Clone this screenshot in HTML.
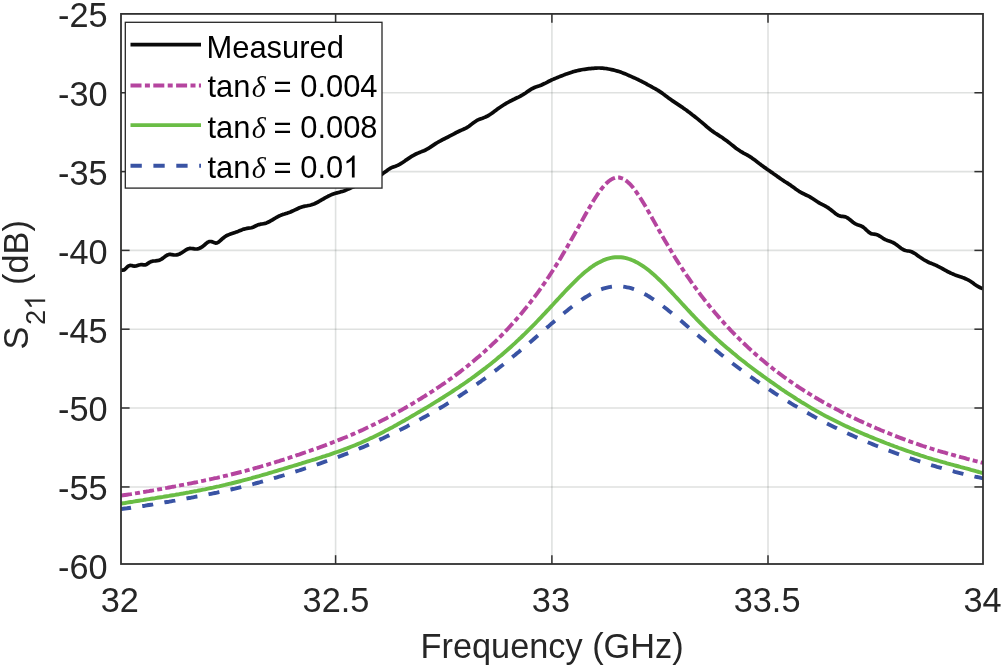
<!DOCTYPE html>
<html><head><meta charset="utf-8"><title>S21</title><style>html,body{margin:0;padding:0;background:#fff}</style></head><body>
<svg width="1004" height="667" viewBox="0 0 1004 667" style="display:block;will-change:transform;font-family:'Liberation Sans',sans-serif">
<rect width="1004" height="667" fill="#fff"/>
<defs><clipPath id="c"><rect x="121.0" y="13.9" width="862.0" height="550.1"/></clipPath></defs>
<g stroke="#1e2a26" stroke-opacity="0.14" stroke-width="1.6">
<line x1="335.6" y1="13.9" x2="335.6" y2="564.0"/>
<line x1="551.9" y1="13.9" x2="551.9" y2="564.0"/>
<line x1="768.0" y1="13.9" x2="768.0" y2="564.0"/>
<line x1="121.0" y1="92.75" x2="983.0" y2="92.75"/>
<line x1="121.0" y1="171.6" x2="983.0" y2="171.6"/>
<line x1="121.0" y1="250.4" x2="983.0" y2="250.4"/>
<line x1="121.0" y1="329.2" x2="983.0" y2="329.2"/>
<line x1="121.0" y1="408.0" x2="983.0" y2="408.0"/>
<line x1="121.0" y1="486.95" x2="983.0" y2="486.95"/>
</g>
<g fill="none" stroke-linejoin="round" clip-path="url(#c)">
<path d="M121.0,270.2 L122.5,270.2 L124.0,269.9 L125.5,268.8 L127.0,267.2 L128.5,265.9 L130.0,265.4 L131.5,265.5 L133.0,265.9 L134.5,266.2 L136.0,266.0 L137.5,265.5 L139.0,265.0 L140.5,264.7 L142.0,264.7 L143.5,264.9 L145.0,264.9 L146.5,264.4 L148.0,263.4 L149.5,262.4 L151.0,261.6 L152.5,261.2 L154.0,261.0 L155.5,260.9 L157.0,260.7 L158.5,260.4 L160.0,259.9 L161.5,259.1 L163.0,258.1 L164.5,256.9 L166.0,255.8 L167.5,254.9 L169.0,254.4 L170.5,254.4 L172.0,254.7 L173.5,254.9 L175.0,255.0 L176.5,254.9 L178.0,254.6 L179.5,254.0 L181.0,253.2 L182.5,252.2 L184.0,251.2 L185.5,250.2 L187.0,249.3 L188.5,248.7 L190.0,248.4 L191.5,248.5 L193.0,248.7 L194.5,248.9 L196.0,249.0 L197.5,248.9 L199.0,248.5 L200.5,247.8 L202.0,246.9 L203.5,245.8 L205.0,244.5 L206.5,243.2 L208.0,242.1 L209.5,241.5 L211.0,241.5 L212.5,241.9 L214.0,242.6 L215.5,243.1 L217.0,242.9 L218.5,242.1 L220.0,240.8 L221.5,239.5 L223.0,238.2 L224.5,237.0 L226.0,236.0 L227.5,235.2 L229.0,234.6 L230.5,234.0 L232.0,233.5 L233.5,233.0 L235.0,232.5 L236.5,231.9 L238.0,231.4 L239.5,230.8 L241.0,230.2 L242.5,229.6 L244.0,229.1 L245.5,228.7 L247.0,228.4 L248.5,228.2 L250.0,228.0 L251.5,227.7 L253.0,227.2 L254.5,226.5 L256.0,225.8 L257.5,225.1 L259.0,224.6 L260.5,224.2 L262.0,224.0 L263.5,223.7 L265.0,223.4 L266.5,222.9 L268.0,222.2 L269.5,221.5 L271.0,220.7 L272.5,219.8 L274.0,218.9 L275.5,218.0 L277.0,217.1 L278.5,216.3 L280.0,215.6 L281.5,215.0 L283.0,214.4 L284.5,214.0 L286.0,213.5 L287.5,213.1 L289.0,212.6 L290.5,212.0 L292.0,211.3 L293.5,210.6 L295.0,209.9 L296.5,209.2 L298.0,208.5 L299.5,207.8 L301.0,207.3 L302.5,206.8 L304.0,206.4 L305.5,206.0 L307.0,205.8 L308.5,205.5 L310.0,205.2 L311.5,204.8 L313.0,204.3 L314.5,203.7 L316.0,203.0 L317.5,202.3 L319.0,201.4 L320.5,200.5 L322.0,199.7 L323.5,198.8 L325.0,197.9 L326.5,197.1 L328.0,196.3 L329.5,195.6 L331.0,194.9 L332.5,194.3 L334.0,193.8 L335.5,193.3 L337.0,192.9 L338.5,192.5 L340.0,192.1 L341.5,191.6 L343.0,191.2 L344.5,190.7 L346.0,190.1 L347.5,189.4 L349.0,188.7 L350.5,188.0 L352.0,187.3 L353.5,186.7 L355.0,186.0 L356.5,185.5 L358.0,184.9 L359.5,184.4 L361.0,183.8 L362.5,183.3 L364.0,182.8 L365.5,182.3 L367.0,181.7 L368.5,181.1 L370.0,180.5 L371.5,179.9 L373.0,179.3 L374.5,178.6 L376.0,177.8 L377.5,177.0 L379.0,176.1 L380.5,175.2 L382.0,174.2 L383.5,173.1 L385.0,172.0 L386.5,170.9 L388.0,169.8 L389.5,168.8 L391.0,167.9 L392.5,167.3 L394.0,166.7 L395.5,166.2 L397.0,165.6 L398.5,165.0 L400.0,164.1 L401.5,163.2 L403.0,162.2 L404.5,161.2 L406.0,160.1 L407.5,159.1 L409.0,158.1 L410.5,157.1 L412.0,156.2 L413.5,155.3 L415.0,154.5 L416.5,153.8 L418.0,153.1 L419.5,152.5 L421.0,151.9 L422.5,151.3 L424.0,150.7 L425.5,150.0 L427.0,149.2 L428.5,148.3 L430.0,147.4 L431.5,146.4 L433.0,145.4 L434.5,144.4 L436.0,143.4 L437.5,142.5 L439.0,141.6 L440.5,140.8 L442.0,140.0 L443.5,139.2 L445.0,138.5 L446.5,137.7 L448.0,137.0 L449.5,136.2 L451.0,135.4 L452.5,134.6 L454.0,133.8 L455.5,133.0 L457.0,132.2 L458.5,131.5 L460.0,130.8 L461.5,130.1 L463.0,129.5 L464.5,128.8 L466.0,128.1 L467.5,127.2 L469.0,126.2 L470.5,125.1 L472.0,123.9 L473.5,122.7 L475.0,121.7 L476.5,120.7 L478.0,119.9 L479.5,119.3 L481.0,118.7 L482.5,118.2 L484.0,117.6 L485.5,117.0 L487.0,116.3 L488.5,115.5 L490.0,114.5 L491.5,113.5 L493.0,112.4 L494.5,111.3 L496.0,110.2 L497.5,109.1 L499.0,108.0 L500.5,107.0 L502.0,106.0 L503.5,105.0 L505.0,104.1 L506.5,103.2 L508.0,102.4 L509.5,101.5 L511.0,100.8 L512.5,100.0 L514.0,99.3 L515.5,98.5 L517.0,97.8 L518.5,97.1 L520.0,96.3 L521.5,95.5 L523.0,94.6 L524.5,93.7 L526.0,92.7 L527.5,91.6 L529.0,90.6 L530.5,89.6 L532.0,88.7 L533.5,88.0 L535.0,87.3 L536.5,86.8 L538.0,86.3 L539.5,85.8 L541.0,85.2 L542.5,84.5 L544.0,83.8 L545.5,83.1 L547.0,82.3 L548.5,81.5 L550.0,80.8 L551.5,80.0 L553.0,79.4 L554.5,78.7 L556.0,78.1 L557.5,77.5 L559.0,76.9 L560.5,76.3 L562.0,75.7 L563.5,75.1 L565.0,74.5 L566.5,73.9 L568.0,73.4 L569.5,72.9 L571.0,72.4 L572.5,71.9 L574.0,71.5 L575.5,71.1 L577.0,70.7 L578.5,70.4 L580.0,70.1 L581.5,69.8 L583.0,69.5 L584.5,69.3 L586.0,69.1 L587.5,68.9 L589.0,68.7 L590.5,68.6 L592.0,68.4 L593.5,68.3 L595.0,68.2 L596.5,68.1 L598.0,68.0 L599.5,68.0 L601.0,68.1 L602.5,68.2 L604.0,68.3 L605.5,68.5 L607.0,68.7 L608.5,69.0 L610.0,69.3 L611.5,69.6 L613.0,69.9 L614.5,70.3 L616.0,70.7 L617.5,71.1 L619.0,71.5 L620.5,72.0 L622.0,72.6 L623.5,73.2 L625.0,73.8 L626.5,74.4 L628.0,75.1 L629.5,75.8 L631.0,76.4 L632.5,77.1 L634.0,77.8 L635.5,78.4 L637.0,79.1 L638.5,79.8 L640.0,80.6 L641.5,81.3 L643.0,82.1 L644.5,82.9 L646.0,83.7 L647.5,84.6 L649.0,85.4 L650.5,86.2 L652.0,87.0 L653.5,87.9 L655.0,88.7 L656.5,89.5 L658.0,90.4 L659.5,91.4 L661.0,92.4 L662.5,93.4 L664.0,94.6 L665.5,95.7 L667.0,96.8 L668.5,97.9 L670.0,99.0 L671.5,100.1 L673.0,101.1 L674.5,102.1 L676.0,103.1 L677.5,104.1 L679.0,105.1 L680.5,106.1 L682.0,107.1 L683.5,108.2 L685.0,109.3 L686.5,110.3 L688.0,111.5 L689.5,112.6 L691.0,113.7 L692.5,114.9 L694.0,116.0 L695.5,117.2 L697.0,118.4 L698.5,119.6 L700.0,120.9 L701.5,122.1 L703.0,123.4 L704.5,124.7 L706.0,126.0 L707.5,127.3 L709.0,128.5 L710.5,129.7 L712.0,130.9 L713.5,131.9 L715.0,133.0 L716.5,133.9 L718.0,134.9 L719.5,135.9 L721.0,136.8 L722.5,137.8 L724.0,138.9 L725.5,140.0 L727.0,141.1 L728.5,142.2 L730.0,143.4 L731.5,144.6 L733.0,145.8 L734.5,147.0 L736.0,148.2 L737.5,149.3 L739.0,150.3 L740.5,151.3 L742.0,152.2 L743.5,153.1 L745.0,153.9 L746.5,154.7 L748.0,155.5 L749.5,156.4 L751.0,157.3 L752.5,158.4 L754.0,159.5 L755.5,160.6 L757.0,161.8 L758.5,162.9 L760.0,164.1 L761.5,165.2 L763.0,166.3 L764.5,167.4 L766.0,168.4 L767.5,169.5 L769.0,170.5 L770.5,171.6 L772.0,172.6 L773.5,173.7 L775.0,174.7 L776.5,175.8 L778.0,176.9 L779.5,177.9 L781.0,179.0 L782.5,180.0 L784.0,181.1 L785.5,182.0 L787.0,182.9 L788.5,183.9 L790.0,184.8 L791.5,185.9 L793.0,187.0 L794.5,188.1 L796.0,189.3 L797.5,190.3 L799.0,191.3 L800.5,192.2 L802.0,193.0 L803.5,193.7 L805.0,194.5 L806.5,195.2 L808.0,195.9 L809.5,196.7 L811.0,197.6 L812.5,198.5 L814.0,199.5 L815.5,200.5 L817.0,201.5 L818.5,202.5 L820.0,203.3 L821.5,204.1 L823.0,204.9 L824.5,205.7 L826.0,206.5 L827.5,207.4 L829.0,208.4 L830.5,209.5 L832.0,210.7 L833.5,211.9 L835.0,213.2 L836.5,214.3 L838.0,215.3 L839.5,215.9 L841.0,216.3 L842.5,216.4 L844.0,216.6 L845.5,216.9 L847.0,217.6 L848.5,218.6 L850.0,219.8 L851.5,221.0 L853.0,222.2 L854.5,223.3 L856.0,224.1 L857.5,224.7 L859.0,225.2 L860.5,225.7 L862.0,226.4 L863.5,227.4 L865.0,228.6 L866.5,230.1 L868.0,231.5 L869.5,232.7 L871.0,233.6 L872.5,234.0 L874.0,234.1 L875.5,234.3 L877.0,234.7 L878.5,235.4 L880.0,236.3 L881.5,237.3 L883.0,238.3 L884.5,239.2 L886.0,239.9 L887.5,240.5 L889.0,241.0 L890.5,241.5 L892.0,242.1 L893.5,242.8 L895.0,243.7 L896.5,244.7 L898.0,245.9 L899.5,247.1 L901.0,248.2 L902.5,249.2 L904.0,250.0 L905.5,250.5 L907.0,250.8 L908.5,251.0 L910.0,251.3 L911.5,251.8 L913.0,252.5 L914.5,253.3 L916.0,254.3 L917.5,255.4 L919.0,256.5 L920.5,257.5 L922.0,258.5 L923.5,259.5 L925.0,260.4 L926.5,261.2 L928.0,262.0 L929.5,262.7 L931.0,263.3 L932.5,263.9 L934.0,264.5 L935.5,265.1 L937.0,265.8 L938.5,266.6 L940.0,267.4 L941.5,268.2 L943.0,269.0 L944.5,269.8 L946.0,270.7 L947.5,271.5 L949.0,272.2 L950.5,273.0 L952.0,273.6 L953.5,274.3 L955.0,274.9 L956.5,275.4 L958.0,275.9 L959.5,276.4 L961.0,276.9 L962.5,277.5 L964.0,278.0 L965.5,278.7 L967.0,279.4 L968.5,280.1 L970.0,281.0 L971.5,282.0 L973.0,283.1 L974.5,284.2 L976.0,285.2 L977.5,286.2 L979.0,287.0 L980.5,287.7 L982.0,288.3 L983.0,288.7" stroke="#0a0a0a" stroke-width="3.7"/>
<path d="M121.0,495.6 L123.0,495.3 L125.0,495.0 L127.0,494.7 L129.0,494.4 L131.0,494.1 L133.0,493.7 L135.0,493.4 L137.0,493.1 L139.0,492.8 L141.0,492.4 L143.0,492.1 L145.0,491.8 L147.0,491.4 L149.0,491.1 L151.0,490.7 L153.0,490.4 L155.0,490.0 L157.0,489.7 L159.0,489.3 L161.0,489.0 L163.0,488.6 L165.0,488.2 L167.0,487.9 L169.0,487.5 L171.0,487.1 L173.0,486.7 L175.0,486.4 L177.0,486.0 L179.0,485.6 L181.0,485.2 L183.0,484.8 L185.0,484.4 L187.0,484.1 L189.0,483.7 L191.0,483.3 L193.0,482.9 L195.0,482.5 L197.0,482.1 L199.0,481.6 L201.0,481.2 L203.0,480.8 L205.0,480.4 L207.0,480.0 L209.0,479.5 L211.0,479.1 L213.0,478.7 L215.0,478.2 L217.0,477.8 L219.0,477.3 L221.0,476.9 L223.0,476.4 L225.0,475.9 L227.0,475.5 L229.0,475.0 L231.0,474.5 L233.0,474.0 L235.0,473.5 L237.0,473.0 L239.0,472.5 L241.0,472.0 L243.0,471.5 L245.0,471.0 L247.0,470.4 L249.0,469.9 L251.0,469.3 L253.0,468.8 L255.0,468.2 L257.0,467.7 L259.0,467.1 L261.0,466.5 L263.0,465.9 L265.0,465.3 L267.0,464.8 L269.0,464.2 L271.0,463.5 L273.0,462.9 L275.0,462.3 L277.0,461.7 L279.0,461.1 L281.0,460.4 L283.0,459.8 L285.0,459.2 L287.0,458.5 L289.0,457.9 L291.0,457.2 L293.0,456.6 L295.0,455.9 L297.0,455.2 L299.0,454.6 L301.0,453.9 L303.0,453.2 L305.0,452.5 L307.0,451.8 L309.0,451.1 L311.0,450.4 L313.0,449.7 L315.0,449.0 L317.0,448.3 L319.0,447.6 L321.0,446.8 L323.0,446.1 L325.0,445.4 L327.0,444.6 L329.0,443.9 L331.0,443.1 L333.0,442.3 L335.0,441.5 L337.0,440.7 L339.0,439.9 L341.0,439.1 L343.0,438.3 L345.0,437.5 L347.0,436.7 L349.0,435.8 L351.0,435.0 L353.0,434.1 L355.0,433.3 L357.0,432.4 L359.0,431.5 L361.0,430.6 L363.0,429.7 L365.0,428.7 L367.0,427.8 L369.0,426.9 L371.0,425.9 L373.0,424.9 L375.0,424.0 L377.0,423.0 L379.0,422.0 L381.0,421.0 L383.0,419.9 L385.0,418.9 L387.0,417.9 L389.0,416.8 L391.0,415.7 L393.0,414.7 L395.0,413.6 L397.0,412.5 L399.0,411.4 L401.0,410.3 L403.0,409.1 L405.0,408.0 L407.0,406.8 L409.0,405.7 L411.0,404.5 L413.0,403.3 L415.0,402.1 L417.0,400.9 L419.0,399.7 L421.0,398.5 L423.0,397.2 L425.0,396.0 L427.0,394.7 L429.0,393.5 L431.0,392.2 L433.0,390.9 L435.0,389.5 L437.0,388.2 L439.0,386.9 L441.0,385.5 L443.0,384.1 L445.0,382.8 L447.0,381.4 L449.0,379.9 L451.0,378.5 L453.0,377.1 L455.0,375.6 L457.0,374.1 L459.0,372.6 L461.0,371.1 L463.0,369.5 L465.0,368.0 L467.0,366.4 L469.0,364.8 L471.0,363.2 L473.0,361.5 L475.0,359.8 L477.0,358.1 L479.0,356.4 L481.0,354.7 L483.0,352.9 L485.0,351.1 L487.0,349.3 L489.0,347.5 L491.0,345.6 L493.0,343.7 L495.0,341.8 L497.0,339.9 L499.0,337.9 L501.0,335.9 L503.0,333.8 L505.0,331.8 L507.0,329.7 L509.0,327.5 L511.0,325.3 L513.0,323.1 L515.0,320.9 L517.0,318.6 L519.0,316.3 L521.0,313.9 L523.0,311.5 L525.0,309.1 L527.0,306.6 L529.0,304.1 L531.0,301.5 L533.0,298.9 L535.0,296.3 L537.0,293.6 L539.0,290.8 L541.0,288.0 L543.0,285.2 L545.0,282.3 L547.0,279.3 L549.0,276.4 L551.0,273.3 L553.0,270.2 L555.0,267.1 L557.0,263.9 L559.0,260.7 L561.0,257.4 L563.0,254.0 L565.0,250.7 L567.0,247.3 L569.0,243.8 L571.0,240.3 L573.0,236.8 L575.0,233.2 L577.0,229.6 L579.0,226.1 L581.0,222.5 L583.0,218.9 L585.0,215.3 L587.0,211.8 L589.0,208.3 L591.0,204.9 L593.0,201.5 L595.0,198.3 L597.0,195.2 L599.0,192.3 L601.0,189.5 L603.0,187.0 L605.0,184.7 L607.0,182.7 L609.0,181.0 L611.0,179.6 L613.0,178.5 L615.0,177.8 L617.0,177.5 L619.0,177.5 L621.0,178.0 L623.0,178.7 L625.0,179.9 L627.0,181.4 L629.0,183.2 L631.0,185.2 L633.0,187.6 L635.0,190.2 L637.0,193.0 L639.0,195.9 L641.0,199.0 L643.0,202.3 L645.0,205.6 L647.0,209.0 L649.0,212.5 L651.0,216.0 L653.0,219.6 L655.0,223.1 L657.0,226.7 L659.0,230.2 L661.0,233.7 L663.0,237.2 L665.0,240.7 L667.0,244.1 L669.0,247.5 L671.0,250.8 L673.0,254.1 L675.0,257.4 L677.0,260.6 L679.0,263.7 L681.0,266.8 L683.0,269.9 L685.0,272.9 L687.0,275.8 L689.0,278.7 L691.0,281.6 L693.0,284.4 L695.0,287.2 L697.0,289.9 L699.0,292.6 L701.0,295.3 L703.0,297.9 L705.0,300.5 L707.0,303.0 L709.0,305.5 L711.0,307.9 L713.0,310.3 L715.0,312.7 L717.0,315.1 L719.0,317.4 L721.0,319.7 L723.0,321.9 L725.0,324.1 L727.0,326.3 L729.0,328.4 L731.0,330.6 L733.0,332.6 L735.0,334.7 L737.0,336.7 L739.0,338.7 L741.0,340.7 L743.0,342.6 L745.0,344.5 L747.0,346.4 L749.0,348.3 L751.0,350.1 L753.0,351.9 L755.0,353.7 L757.0,355.5 L759.0,357.2 L761.0,358.9 L763.0,360.6 L765.0,362.2 L767.0,363.9 L769.0,365.5 L771.0,367.1 L773.0,368.7 L775.0,370.2 L777.0,371.7 L779.0,373.2 L781.0,374.7 L783.0,376.2 L785.0,377.7 L787.0,379.1 L789.0,380.5 L791.0,381.9 L793.0,383.3 L795.0,384.6 L797.0,386.0 L799.0,387.3 L801.0,388.6 L803.0,389.9 L805.0,391.2 L807.0,392.4 L809.0,393.7 L811.0,394.9 L813.0,396.1 L815.0,397.3 L817.0,398.5 L819.0,399.7 L821.0,400.8 L823.0,402.0 L825.0,403.1 L827.0,404.2 L829.0,405.3 L831.0,406.4 L833.0,407.5 L835.0,408.5 L837.0,409.6 L839.0,410.6 L841.0,411.7 L843.0,412.7 L845.0,413.7 L847.0,414.7 L849.0,415.7 L851.0,416.7 L853.0,417.6 L855.0,418.6 L857.0,419.5 L859.0,420.5 L861.0,421.4 L863.0,422.3 L865.0,423.2 L867.0,424.1 L869.0,425.0 L871.0,425.9 L873.0,426.7 L875.0,427.6 L877.0,428.5 L879.0,429.3 L881.0,430.2 L883.0,431.0 L885.0,431.8 L887.0,432.6 L889.0,433.4 L891.0,434.2 L893.0,435.0 L895.0,435.8 L897.0,436.6 L899.0,437.4 L901.0,438.1 L903.0,438.9 L905.0,439.6 L907.0,440.4 L909.0,441.1 L911.0,441.8 L913.0,442.5 L915.0,443.2 L917.0,443.9 L919.0,444.6 L921.0,445.3 L923.0,446.0 L925.0,446.6 L927.0,447.3 L929.0,447.9 L931.0,448.5 L933.0,449.2 L935.0,449.8 L937.0,450.4 L939.0,451.0 L941.0,451.6 L943.0,452.2 L945.0,452.7 L947.0,453.3 L949.0,453.9 L951.0,454.4 L953.0,455.0 L955.0,455.5 L957.0,456.1 L959.0,456.6 L961.0,457.2 L963.0,457.7 L965.0,458.2 L967.0,458.8 L969.0,459.3 L971.0,459.8 L973.0,460.3 L975.0,460.9 L977.0,461.4 L979.0,461.9 L981.0,462.4 L983.0,463.0" stroke="#b5459f" stroke-width="3.9" stroke-dasharray="11 3.2 5 3.2"/>
<path d="M121.0,503.6 L123.0,503.3 L125.0,503.0 L127.0,502.6 L129.0,502.3 L131.0,502.0 L133.0,501.7 L135.0,501.3 L137.0,501.0 L139.0,500.7 L141.0,500.4 L143.0,500.1 L145.0,499.7 L147.0,499.4 L149.0,499.1 L151.0,498.8 L153.0,498.5 L155.0,498.2 L157.0,497.8 L159.0,497.5 L161.0,497.2 L163.0,496.9 L165.0,496.5 L167.0,496.2 L169.0,495.9 L171.0,495.5 L173.0,495.2 L175.0,494.9 L177.0,494.5 L179.0,494.2 L181.0,493.8 L183.0,493.5 L185.0,493.1 L187.0,492.7 L189.0,492.4 L191.0,492.0 L193.0,491.6 L195.0,491.2 L197.0,490.9 L199.0,490.5 L201.0,490.1 L203.0,489.7 L205.0,489.3 L207.0,488.8 L209.0,488.4 L211.0,488.0 L213.0,487.6 L215.0,487.1 L217.0,486.7 L219.0,486.3 L221.0,485.8 L223.0,485.3 L225.0,484.9 L227.0,484.4 L229.0,483.9 L231.0,483.5 L233.0,483.0 L235.0,482.5 L237.0,482.0 L239.0,481.5 L241.0,481.0 L243.0,480.4 L245.0,479.9 L247.0,479.4 L249.0,478.8 L251.0,478.3 L253.0,477.7 L255.0,477.2 L257.0,476.6 L259.0,476.1 L261.0,475.5 L263.0,474.9 L265.0,474.3 L267.0,473.8 L269.0,473.2 L271.0,472.6 L273.0,472.0 L275.0,471.4 L277.0,470.8 L279.0,470.2 L281.0,469.6 L283.0,469.0 L285.0,468.4 L287.0,467.8 L289.0,467.2 L291.0,466.6 L293.0,466.0 L295.0,465.4 L297.0,464.8 L299.0,464.2 L301.0,463.6 L303.0,462.9 L305.0,462.3 L307.0,461.7 L309.0,461.1 L311.0,460.5 L313.0,459.9 L315.0,459.3 L317.0,458.6 L319.0,458.0 L321.0,457.4 L323.0,456.7 L325.0,456.1 L327.0,455.4 L329.0,454.8 L331.0,454.1 L333.0,453.4 L335.0,452.7 L337.0,452.0 L339.0,451.3 L341.0,450.6 L343.0,449.9 L345.0,449.1 L347.0,448.4 L349.0,447.6 L351.0,446.8 L353.0,446.0 L355.0,445.2 L357.0,444.4 L359.0,443.5 L361.0,442.7 L363.0,441.8 L365.0,440.9 L367.0,440.0 L369.0,439.1 L371.0,438.1 L373.0,437.2 L375.0,436.2 L377.0,435.2 L379.0,434.2 L381.0,433.2 L383.0,432.2 L385.0,431.1 L387.0,430.1 L389.0,429.0 L391.0,427.9 L393.0,426.9 L395.0,425.8 L397.0,424.7 L399.0,423.5 L401.0,422.4 L403.0,421.3 L405.0,420.2 L407.0,419.0 L409.0,417.9 L411.0,416.7 L413.0,415.5 L415.0,414.4 L417.0,413.2 L419.0,412.0 L421.0,410.8 L423.0,409.7 L425.0,408.5 L427.0,407.3 L429.0,406.1 L431.0,404.9 L433.0,403.6 L435.0,402.4 L437.0,401.2 L439.0,400.0 L441.0,398.7 L443.0,397.5 L445.0,396.2 L447.0,394.9 L449.0,393.6 L451.0,392.3 L453.0,391.0 L455.0,389.7 L457.0,388.4 L459.0,387.1 L461.0,385.7 L463.0,384.4 L465.0,383.0 L467.0,381.6 L469.0,380.2 L471.0,378.8 L473.0,377.3 L475.0,375.9 L477.0,374.4 L479.0,372.9 L481.0,371.4 L483.0,369.9 L485.0,368.4 L487.0,366.8 L489.0,365.3 L491.0,363.7 L493.0,362.1 L495.0,360.4 L497.0,358.8 L499.0,357.1 L501.0,355.5 L503.0,353.7 L505.0,352.0 L507.0,350.3 L509.0,348.5 L511.0,346.7 L513.0,344.9 L515.0,343.1 L517.0,341.2 L519.0,339.3 L521.0,337.5 L523.0,335.5 L525.0,333.6 L527.0,331.6 L529.0,329.6 L531.0,327.6 L533.0,325.6 L535.0,323.6 L537.0,321.5 L539.0,319.4 L541.0,317.3 L543.0,315.2 L545.0,313.1 L547.0,310.9 L549.0,308.8 L551.0,306.6 L553.0,304.5 L555.0,302.3 L557.0,300.1 L559.0,298.0 L561.0,295.8 L563.0,293.7 L565.0,291.5 L567.0,289.4 L569.0,287.3 L571.0,285.3 L573.0,283.3 L575.0,281.3 L577.0,279.3 L579.0,277.4 L581.0,275.6 L583.0,273.8 L585.0,272.1 L587.0,270.5 L589.0,268.9 L591.0,267.4 L593.0,266.0 L595.0,264.7 L597.0,263.5 L599.0,262.4 L601.0,261.4 L603.0,260.4 L605.0,259.6 L607.0,258.9 L609.0,258.4 L611.0,257.9 L613.0,257.5 L615.0,257.3 L617.0,257.2 L619.0,257.2 L621.0,257.3 L623.0,257.5 L625.0,257.9 L627.0,258.4 L629.0,259.0 L631.0,259.7 L633.0,260.5 L635.0,261.4 L637.0,262.4 L639.0,263.6 L641.0,264.8 L643.0,266.1 L645.0,267.5 L647.0,269.0 L649.0,270.6 L651.0,272.2 L653.0,273.9 L655.0,275.7 L657.0,277.6 L659.0,279.5 L661.0,281.4 L663.0,283.4 L665.0,285.4 L667.0,287.5 L669.0,289.6 L671.0,291.7 L673.0,293.8 L675.0,296.0 L677.0,298.1 L679.0,300.3 L681.0,302.5 L683.0,304.7 L685.0,306.8 L687.0,309.0 L689.0,311.1 L691.0,313.3 L693.0,315.4 L695.0,317.5 L697.0,319.6 L699.0,321.6 L701.0,323.7 L703.0,325.7 L705.0,327.7 L707.0,329.6 L709.0,331.6 L711.0,333.5 L713.0,335.4 L715.0,337.2 L717.0,339.1 L719.0,340.9 L721.0,342.7 L723.0,344.5 L725.0,346.2 L727.0,347.9 L729.0,349.6 L731.0,351.3 L733.0,353.0 L735.0,354.6 L737.0,356.3 L739.0,357.9 L741.0,359.5 L743.0,361.0 L745.0,362.6 L747.0,364.2 L749.0,365.7 L751.0,367.2 L753.0,368.7 L755.0,370.2 L757.0,371.7 L759.0,373.2 L761.0,374.6 L763.0,376.1 L765.0,377.5 L767.0,379.0 L769.0,380.4 L771.0,381.8 L773.0,383.2 L775.0,384.6 L777.0,386.0 L779.0,387.4 L781.0,388.8 L783.0,390.1 L785.0,391.5 L787.0,392.8 L789.0,394.1 L791.0,395.4 L793.0,396.7 L795.0,398.0 L797.0,399.3 L799.0,400.5 L801.0,401.8 L803.0,403.0 L805.0,404.2 L807.0,405.4 L809.0,406.6 L811.0,407.8 L813.0,409.0 L815.0,410.1 L817.0,411.3 L819.0,412.4 L821.0,413.5 L823.0,414.6 L825.0,415.7 L827.0,416.7 L829.0,417.8 L831.0,418.8 L833.0,419.8 L835.0,420.8 L837.0,421.8 L839.0,422.8 L841.0,423.8 L843.0,424.7 L845.0,425.7 L847.0,426.6 L849.0,427.5 L851.0,428.5 L853.0,429.4 L855.0,430.3 L857.0,431.1 L859.0,432.0 L861.0,432.9 L863.0,433.7 L865.0,434.6 L867.0,435.4 L869.0,436.3 L871.0,437.1 L873.0,437.9 L875.0,438.7 L877.0,439.5 L879.0,440.3 L881.0,441.1 L883.0,441.9 L885.0,442.7 L887.0,443.5 L889.0,444.2 L891.0,445.0 L893.0,445.7 L895.0,446.5 L897.0,447.2 L899.0,448.0 L901.0,448.7 L903.0,449.4 L905.0,450.1 L907.0,450.8 L909.0,451.5 L911.0,452.2 L913.0,452.9 L915.0,453.6 L917.0,454.2 L919.0,454.9 L921.0,455.6 L923.0,456.2 L925.0,456.8 L927.0,457.5 L929.0,458.1 L931.0,458.7 L933.0,459.3 L935.0,459.9 L937.0,460.4 L939.0,461.0 L941.0,461.6 L943.0,462.2 L945.0,462.7 L947.0,463.3 L949.0,463.8 L951.0,464.4 L953.0,464.9 L955.0,465.5 L957.0,466.0 L959.0,466.5 L961.0,467.1 L963.0,467.6 L965.0,468.2 L967.0,468.7 L969.0,469.2 L971.0,469.8 L973.0,470.3 L975.0,470.9 L977.0,471.5 L979.0,472.0 L981.0,472.6 L983.0,473.2" stroke="#6abd45" stroke-width="3.9"/>
<path d="M121.0,509.1 L123.0,508.8 L125.0,508.5 L127.0,508.3 L129.0,508.0 L131.0,507.7 L133.0,507.4 L135.0,507.2 L137.0,506.9 L139.0,506.6 L141.0,506.3 L143.0,506.0 L145.0,505.7 L147.0,505.3 L149.0,505.0 L151.0,504.7 L153.0,504.4 L155.0,504.0 L157.0,503.7 L159.0,503.4 L161.0,503.0 L163.0,502.7 L165.0,502.3 L167.0,502.0 L169.0,501.7 L171.0,501.3 L173.0,500.9 L175.0,500.6 L177.0,500.2 L179.0,499.9 L181.0,499.5 L183.0,499.1 L185.0,498.8 L187.0,498.4 L189.0,498.0 L191.0,497.7 L193.0,497.3 L195.0,496.9 L197.0,496.5 L199.0,496.2 L201.0,495.8 L203.0,495.4 L205.0,495.0 L207.0,494.6 L209.0,494.2 L211.0,493.8 L213.0,493.4 L215.0,493.0 L217.0,492.6 L219.0,492.1 L221.0,491.7 L223.0,491.3 L225.0,490.8 L227.0,490.4 L229.0,489.9 L231.0,489.5 L233.0,489.0 L235.0,488.6 L237.0,488.1 L239.0,487.6 L241.0,487.1 L243.0,486.6 L245.0,486.1 L247.0,485.6 L249.0,485.1 L251.0,484.6 L253.0,484.1 L255.0,483.5 L257.0,483.0 L259.0,482.5 L261.0,481.9 L263.0,481.3 L265.0,480.8 L267.0,480.2 L269.0,479.6 L271.0,479.1 L273.0,478.5 L275.0,477.9 L277.0,477.3 L279.0,476.7 L281.0,476.1 L283.0,475.5 L285.0,474.9 L287.0,474.3 L289.0,473.6 L291.0,473.0 L293.0,472.4 L295.0,471.7 L297.0,471.1 L299.0,470.5 L301.0,469.8 L303.0,469.2 L305.0,468.5 L307.0,467.9 L309.0,467.2 L311.0,466.5 L313.0,465.9 L315.0,465.2 L317.0,464.5 L319.0,463.8 L321.0,463.1 L323.0,462.4 L325.0,461.7 L327.0,461.0 L329.0,460.3 L331.0,459.6 L333.0,458.8 L335.0,458.1 L337.0,457.4 L339.0,456.6 L341.0,455.9 L343.0,455.1 L345.0,454.3 L347.0,453.6 L349.0,452.8 L351.0,452.0 L353.0,451.2 L355.0,450.4 L357.0,449.6 L359.0,448.7 L361.0,447.9 L363.0,447.1 L365.0,446.2 L367.0,445.4 L369.0,444.5 L371.0,443.6 L373.0,442.7 L375.0,441.8 L377.0,440.9 L379.0,440.0 L381.0,439.1 L383.0,438.2 L385.0,437.2 L387.0,436.3 L389.0,435.4 L391.0,434.4 L393.0,433.4 L395.0,432.4 L397.0,431.5 L399.0,430.5 L401.0,429.4 L403.0,428.4 L405.0,427.4 L407.0,426.4 L409.0,425.3 L411.0,424.3 L413.0,423.2 L415.0,422.2 L417.0,421.1 L419.0,420.0 L421.0,418.9 L423.0,417.8 L425.0,416.7 L427.0,415.6 L429.0,414.5 L431.0,413.3 L433.0,412.2 L435.0,411.0 L437.0,409.8 L439.0,408.7 L441.0,407.5 L443.0,406.3 L445.0,405.1 L447.0,403.8 L449.0,402.6 L451.0,401.4 L453.0,400.1 L455.0,398.8 L457.0,397.6 L459.0,396.3 L461.0,395.0 L463.0,393.7 L465.0,392.3 L467.0,391.0 L469.0,389.6 L471.0,388.3 L473.0,386.9 L475.0,385.5 L477.0,384.1 L479.0,382.7 L481.0,381.3 L483.0,379.8 L485.0,378.4 L487.0,376.9 L489.0,375.4 L491.0,373.9 L493.0,372.4 L495.0,370.9 L497.0,369.4 L499.0,367.8 L501.0,366.2 L503.0,364.7 L505.0,363.1 L507.0,361.5 L509.0,359.9 L511.0,358.3 L513.0,356.6 L515.0,355.0 L517.0,353.3 L519.0,351.7 L521.0,350.0 L523.0,348.3 L525.0,346.6 L527.0,344.9 L529.0,343.2 L531.0,341.5 L533.0,339.8 L535.0,338.0 L537.0,336.3 L539.0,334.6 L541.0,332.8 L543.0,331.1 L545.0,329.3 L547.0,327.6 L549.0,325.9 L551.0,324.1 L553.0,322.4 L555.0,320.7 L557.0,319.0 L559.0,317.3 L561.0,315.6 L563.0,313.9 L565.0,312.3 L567.0,310.7 L569.0,309.1 L571.0,307.5 L573.0,306.0 L575.0,304.5 L577.0,303.0 L579.0,301.6 L581.0,300.2 L583.0,298.8 L585.0,297.5 L587.0,296.3 L589.0,295.1 L591.0,294.0 L593.0,292.9 L595.0,292.0 L597.0,291.0 L599.0,290.2 L601.0,289.4 L603.0,288.7 L605.0,288.1 L607.0,287.6 L609.0,287.2 L611.0,286.8 L613.0,286.5 L615.0,286.4 L617.0,286.3 L619.0,286.3 L621.0,286.4 L623.0,286.6 L625.0,286.9 L627.0,287.3 L629.0,287.7 L631.0,288.2 L633.0,288.9 L635.0,289.6 L637.0,290.4 L639.0,291.2 L641.0,292.2 L643.0,293.2 L645.0,294.2 L647.0,295.3 L649.0,296.5 L651.0,297.8 L653.0,299.1 L655.0,300.4 L657.0,301.8 L659.0,303.2 L661.0,304.7 L663.0,306.2 L665.0,307.7 L667.0,309.3 L669.0,310.9 L671.0,312.5 L673.0,314.2 L675.0,315.8 L677.0,317.5 L679.0,319.2 L681.0,320.8 L683.0,322.5 L685.0,324.3 L687.0,326.0 L689.0,327.7 L691.0,329.4 L693.0,331.1 L695.0,332.8 L697.0,334.5 L699.0,336.2 L701.0,337.9 L703.0,339.6 L705.0,341.3 L707.0,343.0 L709.0,344.6 L711.0,346.3 L713.0,347.9 L715.0,349.6 L717.0,351.2 L719.0,352.8 L721.0,354.4 L723.0,356.0 L725.0,357.6 L727.0,359.1 L729.0,360.7 L731.0,362.2 L733.0,363.8 L735.0,365.3 L737.0,366.8 L739.0,368.3 L741.0,369.8 L743.0,371.3 L745.0,372.7 L747.0,374.2 L749.0,375.6 L751.0,377.0 L753.0,378.4 L755.0,379.9 L757.0,381.2 L759.0,382.6 L761.0,384.0 L763.0,385.4 L765.0,386.7 L767.0,388.1 L769.0,389.4 L771.0,390.7 L773.0,392.0 L775.0,393.3 L777.0,394.6 L779.0,395.9 L781.0,397.2 L783.0,398.4 L785.0,399.7 L787.0,400.9 L789.0,402.1 L791.0,403.4 L793.0,404.6 L795.0,405.8 L797.0,406.9 L799.0,408.1 L801.0,409.3 L803.0,410.4 L805.0,411.6 L807.0,412.7 L809.0,413.8 L811.0,414.9 L813.0,416.0 L815.0,417.1 L817.0,418.2 L819.0,419.3 L821.0,420.3 L823.0,421.4 L825.0,422.4 L827.0,423.4 L829.0,424.4 L831.0,425.4 L833.0,426.4 L835.0,427.4 L837.0,428.4 L839.0,429.3 L841.0,430.3 L843.0,431.2 L845.0,432.2 L847.0,433.1 L849.0,434.0 L851.0,434.9 L853.0,435.8 L855.0,436.7 L857.0,437.6 L859.0,438.5 L861.0,439.3 L863.0,440.2 L865.0,441.0 L867.0,441.9 L869.0,442.7 L871.0,443.5 L873.0,444.4 L875.0,445.2 L877.0,446.0 L879.0,446.8 L881.0,447.5 L883.0,448.3 L885.0,449.1 L887.0,449.9 L889.0,450.6 L891.0,451.4 L893.0,452.1 L895.0,452.9 L897.0,453.6 L899.0,454.3 L901.0,455.0 L903.0,455.7 L905.0,456.4 L907.0,457.1 L909.0,457.8 L911.0,458.5 L913.0,459.2 L915.0,459.9 L917.0,460.5 L919.0,461.2 L921.0,461.8 L923.0,462.5 L925.0,463.1 L927.0,463.7 L929.0,464.3 L931.0,465.0 L933.0,465.6 L935.0,466.2 L937.0,466.8 L939.0,467.3 L941.0,467.9 L943.0,468.5 L945.0,469.1 L947.0,469.6 L949.0,470.2 L951.0,470.7 L953.0,471.2 L955.0,471.8 L957.0,472.3 L959.0,472.8 L961.0,473.3 L963.0,473.8 L965.0,474.3 L967.0,474.8 L969.0,475.2 L971.0,475.7 L973.0,476.1 L975.0,476.6 L977.0,477.0 L979.0,477.4 L981.0,477.9 L983.0,478.3" stroke="#3953a4" stroke-width="3.9" stroke-dasharray="11.1 11.35" stroke-dashoffset="1"/>
</g>
<g stroke="#303030" stroke-width="1.5">
<line x1="335.6" y1="564.0" x2="335.6" y2="555.2"/>
<line x1="335.6" y1="13.9" x2="335.6" y2="22.700000000000003"/>
<line x1="551.9" y1="564.0" x2="551.9" y2="555.2"/>
<line x1="551.9" y1="13.9" x2="551.9" y2="22.700000000000003"/>
<line x1="768.0" y1="564.0" x2="768.0" y2="555.2"/>
<line x1="768.0" y1="13.9" x2="768.0" y2="22.700000000000003"/>
<line x1="121.0" y1="92.75" x2="129.6" y2="92.75"/>
<line x1="983.0" y1="92.75" x2="974.4" y2="92.75"/>
<line x1="121.0" y1="171.6" x2="129.6" y2="171.6"/>
<line x1="983.0" y1="171.6" x2="974.4" y2="171.6"/>
<line x1="121.0" y1="250.4" x2="129.6" y2="250.4"/>
<line x1="983.0" y1="250.4" x2="974.4" y2="250.4"/>
<line x1="121.0" y1="329.2" x2="129.6" y2="329.2"/>
<line x1="983.0" y1="329.2" x2="974.4" y2="329.2"/>
<line x1="121.0" y1="408.0" x2="129.6" y2="408.0"/>
<line x1="983.0" y1="408.0" x2="974.4" y2="408.0"/>
<line x1="121.0" y1="486.95" x2="129.6" y2="486.95"/>
<line x1="983.0" y1="486.95" x2="974.4" y2="486.95"/>
</g>
<rect x="121.0" y="13.9" width="862.0" height="550.1" fill="none" stroke="#303030" stroke-width="1.8"/>
<g font-size="34.3" fill="#262626">
<text x="107.6" y="26.9" text-anchor="end">-25</text>
<text x="107.6" y="106.2" text-anchor="end">-30</text>
<text x="107.6" y="185.0" text-anchor="end">-35</text>
<text x="107.6" y="263.8" text-anchor="end">-40</text>
<text x="107.6" y="342.6" text-anchor="end">-45</text>
<text x="107.6" y="421.4" text-anchor="end">-50</text>
<text x="107.6" y="500.3" text-anchor="end">-55</text>
<text x="107.6" y="578.7" text-anchor="end">-60</text>
<text x="119.8" y="611.6" text-anchor="middle">32</text>
<text x="336.0" y="611.6" text-anchor="middle">32.5</text>
<text x="550.9" y="611.6" text-anchor="middle">33</text>
<text x="767.1" y="611.6" text-anchor="middle">33.5</text>
<text x="982.6" y="611.6" text-anchor="middle">34</text>
<text x="552.1" y="658" text-anchor="middle">Frequency (GHz)</text>
<g transform="translate(28.0,0) rotate(-90) scale(1,1.04)">
<text x="-349.4" y="0">S</text><text x="-324.9" y="16.5" font-size="27.4">2</text><path transform="translate(-309.67,16.5) scale(0.013379,-0.013379)" d="M763 0H583V1147Q518 1085 412.5 1023T223 930V1104Q374 1175 487 1276T647 1472H763Z"/><text x="-284.9" y="0">(dB)</text>
</g>
</g>
<rect x="125.3" y="22.3" width="256.7" height="165.8" fill="#fff" stroke="#262626" stroke-width="1.3"/>
<g fill="none">
<line x1="130.5" x2="201" y1="44.7" y2="44.7" stroke="#0a0a0a" stroke-width="3.7"/>
<line x1="130.5" x2="201" y1="85.5" y2="85.5" stroke="#b5459f" stroke-width="3.9" stroke-dasharray="11 3.4 5 3.4"/>
<line x1="130.5" x2="201" y1="125.1" y2="125.1" stroke="#6abd45" stroke-width="3.9"/>
<line x1="130.5" x2="201" y1="165.8" y2="165.8" stroke="#3953a4" stroke-width="3.9" stroke-dasharray="11.3 11.6"/>
</g>
<g font-size="30.9" fill="#000">
<text transform="translate(206.5,57.5) scale(1,1)">Measured</text>
<g transform="translate(0,97.0) scale(1,1)"><text x="207.5">tan</text><text x="251.8" font-family="'Liberation Serif',serif" font-style="italic" font-size="30.0">δ</text><text x="273.6">= 0.004</text></g>
<g transform="translate(0,137.5) scale(1,1)"><text x="207.5">tan</text><text x="251.8" font-family="'Liberation Serif',serif" font-style="italic" font-size="30.0">δ</text><text x="273.6">= 0.008</text></g>
<g transform="translate(0,177.6) scale(1,1)"><path transform="translate(343.1,0) scale(0.015088,-0.015088)" d="M763 0H583V1147Q518 1085 412.5 1023T223 930V1104Q374 1175 487 1276T647 1472H763Z"/><text x="207.5">tan</text><text x="251.8" font-family="'Liberation Serif',serif" font-style="italic" font-size="30.0">δ</text><text x="273.6">= 0.0</text></g>
</g>
</svg>
</body></html>
